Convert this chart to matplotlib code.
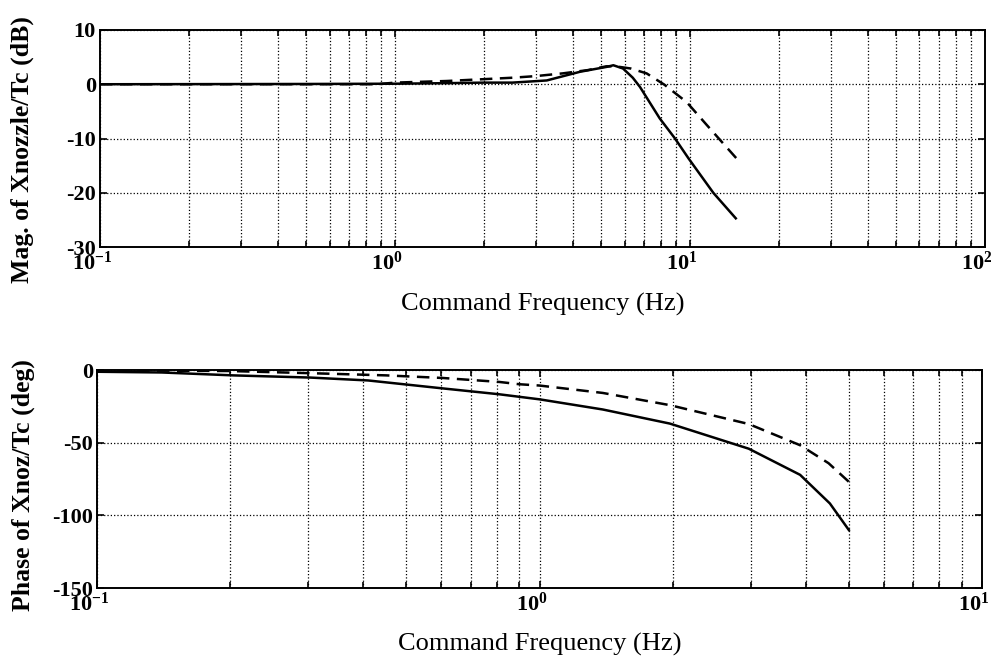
import numpy as np
import matplotlib; matplotlib.use("Agg")
import matplotlib.pyplot as plt
import matplotlib.transforms as mtransforms
from matplotlib.ticker import LogLocator, NullFormatter, MultipleLocator

# magnitude (dB) vs command frequency (Hz)
MAG_F_SOLID = [0.1, 0.5, 1.0, 1.5, 2.0, 2.5, 3.27, 4.24, 5.22, 5.5, 5.93, 6.4, 6.77, 7.9, 8.9, 9.9, 12.0, 14.3]
MAG_SOLID = [0.0, 0.05, 0.1, 0.2, 0.3, 0.3, 0.7, 2.3, 3.2, 3.5, 2.9, 1.2, -0.5, -6.3, -10.0, -13.7, -20.0, -24.7]
MAG_F_DASH = [0.1, 0.87, 1.0, 1.5, 1.94, 2.5, 3.0, 3.7, 4.5, 5.2, 5.6, 6.3, 7.13, 8.2, 9.75, 11.4, 14.4]
MAG_DASH = [0.0, 0.0, 0.3, 0.6, 0.9, 1.2, 1.5, 2.0, 2.6, 3.3, 3.3, 2.9, 2.0, -0.1, -3.3, -7.5, -13.7]

# phase (deg) vs command frequency (Hz)
PH_F_SOLID = [0.1, 0.14, 0.203, 0.303, 0.41, 0.61, 0.81, 1.0, 1.39, 1.97, 2.97, 3.88, 4.53, 5.0]
PH_SOLID = [-1.0, -1.5, -3.5, -5.0, -7.0, -12.6, -16.5, -20.0, -27.0, -36.7, -54.0, -72.0, -91.7, -110.0]
PH_F_DASH = [0.1, 0.2, 0.33, 0.45, 0.605, 0.81, 0.9, 1.0, 1.39, 1.97, 2.97, 3.88, 4.5, 5.0]
PH_DASH = [0.0, -0.5, -2.3, -3.5, -5.3, -8.0, -9.6, -10.5, -15.6, -24.0, -37.0, -51.6, -64.0, -76.8]

plt.rcParams.update({
    "font.family": "serif", "font.serif": ["Liberation Serif", "DejaVu Serif"],
    "mathtext.fontset": "stix", "axes.unicode_minus": False,
    "axes.linewidth": 1.4,
})


def style(ax, xlim, ylim, ystep, ylabel, ylab_xy, xlab_y):
    ax.set_xscale("log")
    ax.set_xlim(*xlim)
    ax.set_ylim(*ylim)
    ax.yaxis.set_major_locator(MultipleLocator(ystep))
    ax.xaxis.set_minor_locator(LogLocator(base=10, subs=np.arange(2, 10)))
    ax.xaxis.set_minor_formatter(NullFormatter())
    ax.grid(True, which="major", axis="both", color="black", ls=":", lw=0.9)
    ax.grid(True, which="minor", axis="x", color="black", ls=":", lw=0.9)
    ax.tick_params(which="both", direction="in", top=True, right=True, width=1.2)
    ax.tick_params(which="major", length=5, labelsize=16, pad=3)
    ax.tick_params(which="minor", length=4)
    for lab in ax.get_yticklabels() + ax.get_xticklabels():
        lab.set_fontweight("bold")
    ax.set_xlabel("Command Frequency (Hz)", fontsize=19)
    ax.set_ylabel(ylabel, fontsize=18.5, fontweight="bold")
    ax.yaxis.set_label_coords(*ylab_xy)
    ax.xaxis.set_label_coords(0.5, xlab_y)
    # the scanned decade labels sit a little left of their grid lines
    shift = mtransforms.ScaledTranslation(-8 / 100, 0, ax.figure.dpi_scale_trans)
    for tk in ax.xaxis.get_major_ticks():
        tk.label1.set_transform(tk.label1.get_transform() + shift)


fig = plt.figure(figsize=(9.97, 6.66), dpi=100)
ax1 = fig.add_axes([0.1003, 0.629, 0.8876, 0.326])
ax2 = fig.add_axes([0.0973, 0.117, 0.8877, 0.327])

ax1.plot(MAG_F_SOLID, MAG_SOLID, color="black", lw=1.8)
ax1.plot(MAG_F_DASH, MAG_DASH, color="black", lw=1.8, ls=(0, (5, 3)))
style(ax1, (0.1, 100), (-30, 10), 10, "Mag. of Xnozzle/Tc (dB)", (-0.0746, 0.447), -0.212)

ax2.plot(PH_F_SOLID, PH_SOLID, color="black", lw=1.8)
ax2.plot(PH_F_DASH, PH_DASH, color="black", lw=1.8, ls=(0, (5, 3)))
style(ax2, (0.1, 10), (-150, 0), 50, "Phase of Xnoz/Tc (deg)", (-0.070, 0.472), -0.206)

fig.savefig("out.png", dpi=100)
